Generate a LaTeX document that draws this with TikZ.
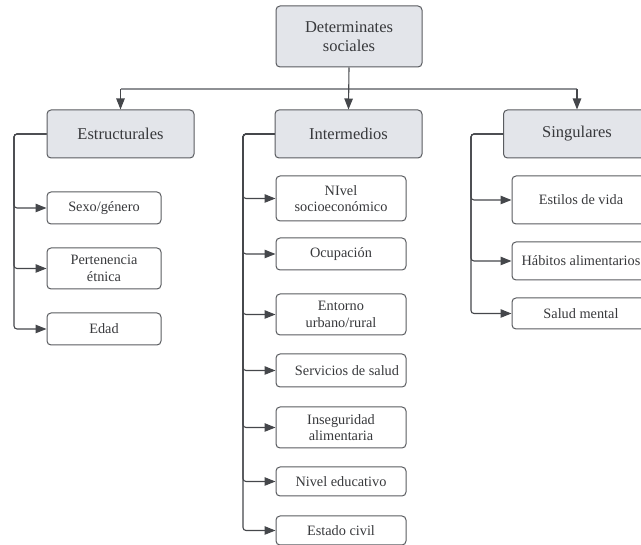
\documentclass[tikz,border=0pt]{standalone}
\usepackage{fontspec}
\setmainfont{Liberation Serif}
\usetikzlibrary{arrows.meta,calc}
\definecolor{boxfill}{HTML}{E3E5EA}
\definecolor{boxline}{HTML}{5A5C60}
\definecolor{txt}{HTML}{38393C}
\definecolor{conn}{HTML}{45474B}
\definecolor{hubline}{HTML}{8E9094}
\begin{document}
\begin{tikzpicture}[x=1pt,y=-1pt,
  catbox/.style={draw=boxline,line width=1pt,fill=boxfill,rounded corners=4pt,align=center,text=txt,font=\fontsize{16.5}{18}\selectfont,inner sep=0pt,minimum width=147pt,minimum height=48pt},
  topbox/.style={catbox,minimum width=146pt,minimum height=61pt,font=\fontsize{16.5}{19.5}\selectfont},
  leafbox/.style={draw=boxline,line width=1pt,fill=white,rounded corners=4pt,align=center,text=txt,font=\fontsize{14.3}{16.5}\selectfont,inner sep=0pt},
  conn/.style={draw=conn,line width=1.1pt,rounded corners=3pt},
  arr/.style={conn,-{Triangle[length=11pt,width=8.5pt]}},
  hub/.style={draw=hubline,line width=1.8pt}]
\useasboundingbox (0,0) rectangle (641,545);
\node[topbox] (top) at (349,36.5) {Determinates\\sociales};
\node[catbox] (est) at (120.5,134) {Estructurales};
\node[catbox] (int) at (348.5,134) {Intermedios};
\node[catbox] (sin) at (577,134) {Singulares};
\coordinate (hubc) at (349,89);
\coordinate (hubl) at (120.5,89);
\coordinate (hubr) at (577,89);
% leaves
\node[leafbox,minimum width=114pt,minimum height=32pt] (e1) at (104,208) {Sexo/género};
\node[leafbox,minimum width=114pt,minimum height=41pt] (e2) at (104,268.5) {Pertenencia\\étnica};
\node[leafbox,minimum width=114pt,minimum height=32pt] (e3) at (104,329) {Edad};
\node[leafbox,minimum width=130pt,minimum height=45pt] (i1) at (341,198.5) {NIvel\\socioeconómico};
\node[leafbox,minimum width=130pt,minimum height=32pt] (i2) at (341,254) {Ocupación};
\node[leafbox,minimum width=130pt,minimum height=41pt] (i3) at (341,314.5) {Entorno\\urbano/rural};
\node[leafbox,minimum width=130pt,minimum height=33pt] (i4) at (341,370.5) {\hspace*{12pt}Servicios de salud};
\node[leafbox,minimum width=130pt,minimum height=41pt] (i5) at (341,427.5) {Inseguridad\\alimentaria};
\node[leafbox,minimum width=130pt,minimum height=29pt] (i6) at (341,481.5) {Nivel educativo};
\node[leafbox,minimum width=130pt,minimum height=29pt] (i7) at (341,530.5) {Estado civil};
\node[leafbox,minimum width=138pt,minimum height=48pt] (s1) at (581,200) {Estilos de vida};
\node[leafbox,minimum width=138pt,minimum height=38pt] (s2) at (581,261) {Hábitos alimentarios};
\node[leafbox,minimum width=138pt,minimum height=31pt] (s3) at (581,313.5) {Salud mental};
% top connectors
\draw[hub] (hubl) -- (hubr);
\draw[arr] (top.south) -- (int.north);
\draw[arr] (hubl) -- (est.north);
\draw[arr] (hubr) -- (sin.north);
% buses
\coordinate (eb) at (14,134);
\coordinate (ib) at (243,134);
\coordinate (sb) at (471,134);
\foreach \n in {e1,e2,e3} \draw[arr] (est.west) -- (eb) |- (\n.west);
\foreach \n in {i1,i2,i3,i4,i5,i6,i7} \draw[arr] (int.west) -- (ib) |- (\n.west);
\foreach \n in {s1,s2,s3} \draw[arr] (sin.west) -- (sb) |- (\n.west);
\end{tikzpicture}
\end{document}
